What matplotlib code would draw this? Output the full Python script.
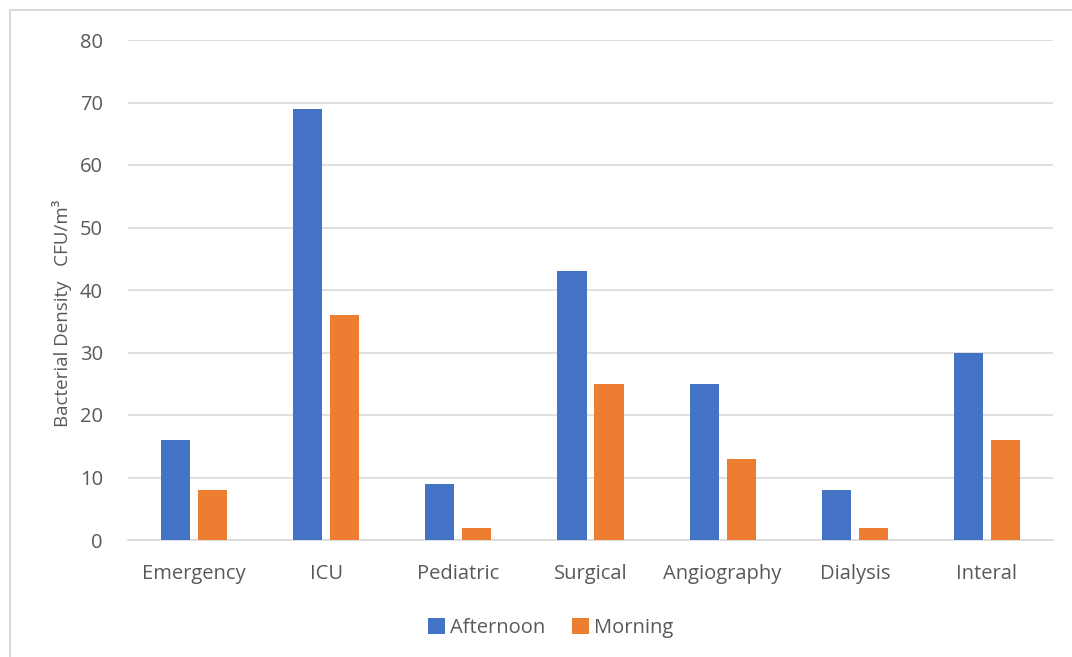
import matplotlib.pyplot as plt
import numpy as np
from matplotlib.patches import Rectangle

plt.rcParams["font.family"] = ["Open Sans", "DejaVu Sans"]

wards = ["Emergency", "ICU", "Pediatric", "Surgical", "Angiography", "Dialysis", "Interal"]
afternoon = [16, 69, 9, 43, 25, 8, 30]
morning = [8, 36, 2, 25, 13, 2, 16]

blue = "#4472C4"
orange = "#ED7D31"
text_gray = "#595959"
grid_gray = "#D9D9D9"

fig = plt.figure(figsize=(10.72, 6.57), dpi=100)
ax = fig.add_axes([128 / 1072, 1 - 540 / 657, 925 / 1072, 500 / 657])

x = np.arange(len(wards))
width = 0.22
offset = 0.14
ax.bar(x - offset, afternoon, width, color=blue, label="Afternoon", zorder=3)
ax.bar(x + offset, morning, width, color=orange, label="Morning", zorder=3)

ax.set_xlim(-0.5, len(wards) - 0.5)
ax.set_ylim(0, 80)
ax.set_yticks(range(0, 81, 10))
ax.set_xticks(x)
ax.set_xticklabels(wards)
ax.tick_params(axis="both", length=0, labelsize=14.5, colors=text_gray)
ax.tick_params(axis="y", pad=18)
ax.tick_params(axis="x", pad=17)
ax.grid(axis="y", color=grid_gray, linewidth=1.2, zorder=0)
for side in ["top", "right", "left"]:
    ax.spines[side].set_visible(False)
ax.spines["bottom"].set_color(grid_gray)
ax.spines["bottom"].set_linewidth(1.2)

fig.text(62 / 1072, 1 - 313 / 657, "Bacterial Density   CFU/m³", rotation=90,
         ha="center", va="center", fontsize=13.5, color=text_gray)

ax.legend(loc="upper center", bbox_to_anchor=(0.457, -0.12), ncol=2, frameon=False,
          fontsize=14.5, labelcolor=text_gray, handlelength=0.85, handleheight=0.85,
          handletextpad=0.25, columnspacing=1.3)

# light frame around the chart
fig.patches.append(Rectangle((10 / 1072, -0.01), 1.1, 1 - 10 / 657 + 0.01,
                             transform=fig.transFigure, fill=False,
                             edgecolor=grid_gray, linewidth=1.5))

fig.savefig("out.png", dpi=100)
